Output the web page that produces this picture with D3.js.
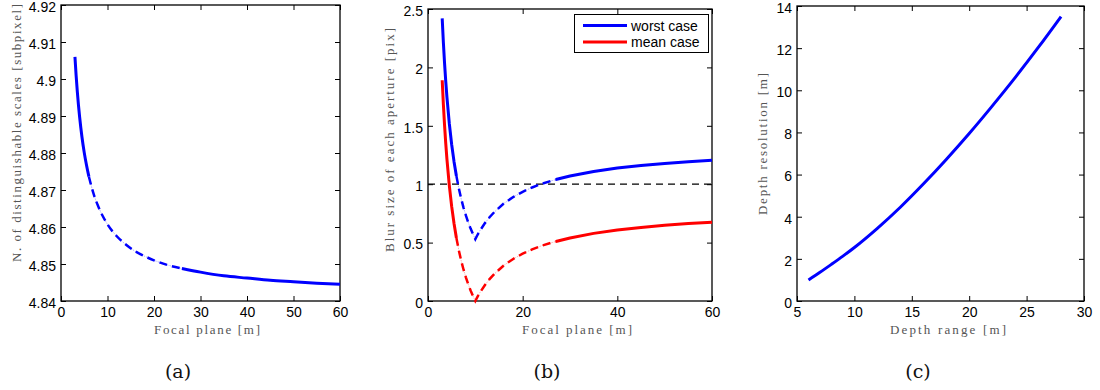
<!DOCTYPE html>
<html><head><meta charset="utf-8">
<script src="https://cdn.jsdelivr.net/npm/d3@7"></script>
<style>body{margin:0;background:#fff} svg{display:block}</style>
</head><body><svg id="chart" width="1100" height="390"></svg>
<script>
// ---- Panel (a) data ----
const focalA  = [3, 3.25, 3.5, 3.75, 4, 4.5, 5, 5.5, 6, 7, 8, 9, 10, 12, 14, 16, 18, 20, 23, 26, 30, 35, 40, 45, 50, 55, 60];
const scalesA = [4.9060, 4.9010, 4.8967, 4.8930, 4.8898, 4.8844, 4.8801, 4.8766, 4.8736, 4.8690, 4.8656, 4.8629, 4.8607,
                 4.8575, 4.8552, 4.8534, 4.8521, 4.8510, 4.8497, 4.8488, 4.8478, 4.8468, 4.8462, 4.8456, 4.8452, 4.8448, 4.8445];
const xTicksA = [0, 10, 20, 30, 40, 50, 60];
const yTicksA = [4.84, 4.85, 4.86, 4.87, 4.88, 4.89, 4.9, 4.91, 4.92];
const yTickLabelsA = ["4.84", "4.85", "4.86", "4.87", "4.88", "4.89", "4.9", "4.91", "4.92"];

// ---- Panel (b) data ----
const focalB = [3, 3.25, 3.5, 3.75, 4, 4.5, 5, 5.5, 6, 6.5, 7, 7.5, 8, 8.5, 9, 9.5, 10, 10.5, 11, 12, 13, 14, 16, 18, 20, 22, 24, 27, 30, 35, 40, 45, 50, 55, 60];
const worstB = [2.420, 2.212, 2.034, 1.880, 1.745, 1.520, 1.340, 1.193, 1.070, 0.966, 0.877, 0.800, 0.733, 0.673, 0.620, 0.573, 0.530,
                0.569, 0.604, 0.665, 0.717, 0.761, 0.834, 0.890, 0.935, 0.972, 1.003, 1.040, 1.070, 1.109, 1.138, 1.160, 1.178, 1.193, 1.205];
const meanB  = [1.890, 1.682, 1.504, 1.350, 1.215, 0.990, 0.810, 0.663, 0.540, 0.436, 0.347, 0.270, 0.203, 0.143, 0.090, 0.043, 0.000,
                0.039, 0.074, 0.135, 0.187, 0.231, 0.304, 0.360, 0.405, 0.442, 0.473, 0.510, 0.540, 0.579, 0.608, 0.630, 0.648, 0.663, 0.675];
const thresholdB = 1;
const seriesNamesB = ["worst case", "mean case"];
const xTicksB = [0, 20, 40, 60];
const yTicksB = [0, 0.5, 1, 1.5, 2, 2.5];
const yTickLabelsB = ["0", "0.5", "1", "1.5", "2", "2.5"];

// ---- Panel (c) data ----
const rangeC = [6, 7, 8, 9, 10, 12, 14, 16, 18, 20, 22, 24, 26, 28];
const resC   = [1.0, 1.36, 1.74, 2.13, 2.54, 3.45, 4.45, 5.55, 6.72, 7.95, 9.25, 10.6, 12.02, 13.5];
const xTicksC = [5, 10, 15, 20, 25, 30];
const yTicksC = [0, 2, 4, 6, 8, 10, 12, 14];

const svg = d3.select("#chart");
const TICKFONT = "'Liberation Sans', Arial, sans-serif";
const LABFONT = "'Liberation Serif', 'DejaVu Serif', serif";

function panel(cfg) {
  const x = d3.scaleLinear().domain(cfg.xDomain).range([cfg.left, cfg.right]);
  const y = d3.scaleLinear().domain(cfg.yDomain).range([cfg.bottom, cfg.top]);
  const g = svg.append("g");
  const fmtY = v => cfg.yLabels ? cfg.yLabels[cfg.yTicks.indexOf(v)] : String(v);
  const ax = [
    d3.axisBottom(x).tickValues(cfg.xTicks).tickSize(-5).tickPadding(6),
    d3.axisTop(x).tickValues(cfg.xTicks).tickSize(-5).tickFormat(""),
    d3.axisLeft(y).tickValues(cfg.yTicks).tickSize(-5).tickPadding(5).tickFormat(fmtY),
    d3.axisRight(y).tickValues(cfg.yTicks).tickSize(-5).tickFormat("")
  ];
  const pos = [`translate(0,${cfg.bottom})`, `translate(0,${cfg.top})`, `translate(${cfg.left},0)`, `translate(${cfg.right},0)`];
  ax.forEach((a, i) => {
    const ag = g.append("g").attr("transform", pos[i]).call(a);
    ag.select(".domain").remove();
    ag.selectAll("line").attr("stroke", "#000").attr("stroke-width", 1);
    ag.selectAll("text").attr("font-family", TICKFONT).attr("font-size", 14).attr("fill", "#000");
    if (i === 2) ag.selectAll("text").attr("dy", "0.45em");
  });
  g.append("rect").attr("x", cfg.left).attr("y", cfg.top)
    .attr("width", cfg.right - cfg.left).attr("height", cfg.bottom - cfg.top)
    .attr("fill", "none").attr("stroke", "#000").attr("stroke-width", 1.3);
  // x label
  g.append("text").attr("x", cfg.xLabelX).attr("y", 334).attr("text-anchor", "middle")
    .attr("font-family", LABFONT).attr("font-size", 13).attr("fill", "#555")
    .attr("textLength", cfg.xLabelLen).attr("lengthAdjust", "spacing").text(cfg.xLabel);
  // y label
  g.append("text").attr("transform", `translate(${cfg.yLabelX},${cfg.yLabelY}) rotate(-90)`)
    .attr("text-anchor", "middle")
    .attr("font-family", LABFONT).attr("font-size", 13).attr("fill", "#555")
    .attr("textLength", cfg.yLabelLen).attr("lengthAdjust", "spacing").text(cfg.yLabel);
  // caption
  g.append("text").attr("x", cfg.capX).attr("y", 378).attr("text-anchor", "middle")
    .attr("font-family", "'DejaVu Serif', serif").attr("font-size", 19).attr("fill", "#111").text(cfg.caption);
  return {x, y, g};
}

function drawSeries(p, xs, ys, color, d0, d1, curve) {
  const pts = xs.map((v, i) => [v, ys[i]]);
  const line = d3.line().x(d => p.x(d[0])).y(d => p.y(d[1])).curve(curve);
  const parts = [
    {data: pts.filter(d => d[0] <= d0), style: "solid"},
    {data: pts.filter(d => d[0] >= d0 && d[0] <= d1), style: "dash"},
    {data: pts.filter(d => d[0] >= d1), style: "solid"}
  ];
  parts.forEach(pt => {
    if (pt.data.length < 2) return;
    if (pt.style === "dash") {
      p.g.append("path").attr("d", line(pt.data)).attr("fill", "none")
        .attr("stroke", color).attr("stroke-opacity", 0.3).attr("stroke-width", 1)
        .attr("stroke-dasharray", "1.5,1");
      p.g.append("path").attr("d", line(pt.data)).attr("fill", "none")
        .attr("stroke", color).attr("stroke-width", 2.5).attr("stroke-dasharray", "8,5");
    } else {
      p.g.append("path").attr("d", line(pt.data)).attr("fill", "none")
        .attr("stroke", color).attr("stroke-width", 3).attr("stroke-linejoin", "round");
    }
  });
}

// Panel (a)
const pa = panel({left: 61, right: 340, top: 5, bottom: 301, xDomain: [0, 60], yDomain: [4.84, 4.92],
  xTicks: xTicksA, yTicks: yTicksA, yLabels: yTickLabelsA,
  xLabel: "Focal plane [m]", xLabelX: 207, xLabelLen: 106,
  yLabel: "N. of distinguishable scales [subpixel]", yLabelX: 21, yLabelY: 133, yLabelLen: 258,
  caption: "(a)", capX: 178});
drawSeries(pa, focalA, scalesA, "#0000ff", 6, 26, d3.curveMonotoneX);

// Panel (b)
const pb = panel({left: 428, right: 712, top: 9, bottom: 301, xDomain: [0, 60], yDomain: [0, 2.5],
  xTicks: xTicksB, yTicks: yTicksB, yLabels: yTickLabelsB,
  xLabel: "Focal plane [m]", xLabelX: 577, xLabelLen: 110,
  yLabel: "Blur size of each aperture [pix]", yLabelX: 394, yLabelY: 140, yLabelLen: 224,
  caption: "(b)", capX: 547});
pb.g.append("line").attr("x1", pb.x(0)).attr("x2", pb.x(60))
  .attr("y1", pb.y(thresholdB)).attr("y2", pb.y(thresholdB))
  .attr("stroke", "#000").attr("stroke-width", 1.2).attr("stroke-dasharray", "7,5");
drawSeries(pb, focalB, meanB, "#ff0000", 6, 27, d3.curveLinear);
drawSeries(pb, focalB, worstB, "#0000ff", 6, 27, d3.curveLinear);
// legend
const lg = pb.g.append("g");
lg.append("rect").attr("x", 574.5).attr("y", 14.5).attr("width", 134).attr("height", 38)
  .attr("fill", "#fff").attr("stroke", "#000").attr("stroke-width", 1);
const legColors = ["#0000ff", "#ff0000"];
seriesNamesB.forEach((n, i) => {
  const yy = 25.5 + i * 16.5;
  lg.append("line").attr("x1", 583).attr("x2", 627).attr("y1", yy).attr("y2", yy)
    .attr("stroke", legColors[i]).attr("stroke-width", 3);
  lg.append("text").attr("x", 631).attr("y", yy + 5).attr("font-family", TICKFONT)
    .attr("font-size", 14).attr("fill", "#000").text(n);
});

// Panel (c)
const pc = panel({left: 797, right: 1084, top: 6, bottom: 301, xDomain: [5, 30], yDomain: [0, 14],
  xTicks: xTicksC, yTicks: yTicksC,
  xLabel: "Depth range [m]", xLabelX: 948, xLabelLen: 116,
  yLabel: "Depth resolution [m]", yLabelX: 767, yLabelY: 144, yLabelLen: 142,
  caption: "(c)", capX: 918});
drawSeries(pc, rangeC, resC, "#0000ff", 100, 100, d3.curveMonotoneX);
</script></body></html>
